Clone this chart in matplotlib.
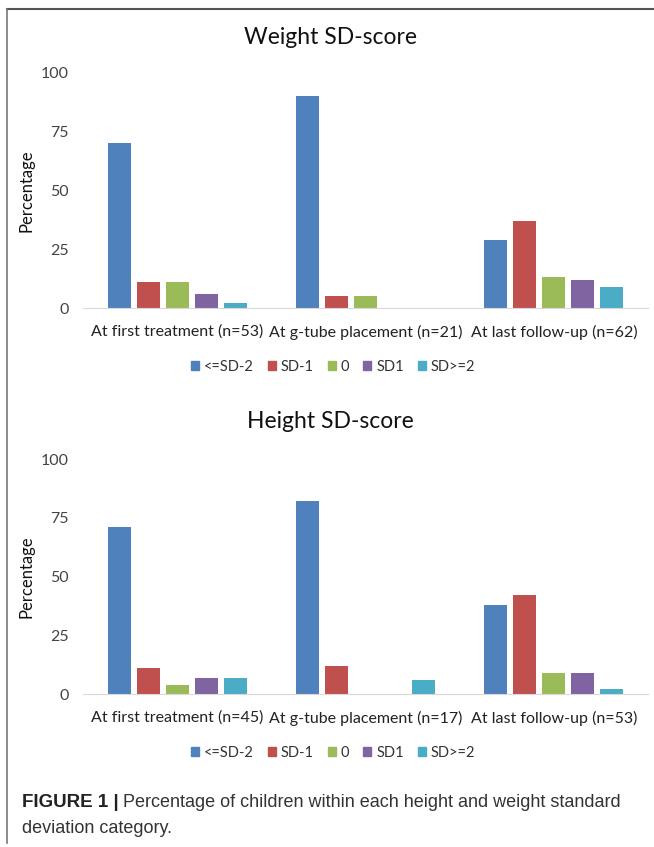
import numpy as np
import matplotlib
matplotlib.use("Agg")
import matplotlib.pyplot as plt
from matplotlib.patches import Patch
from matplotlib.lines import Line2D

series = ['<=SD-2', 'SD-1', '0', 'SD1', 'SD>=2']
colors = ['#4F81BD', '#C0504D', '#9BBB59', '#8064A2', '#4BACC6']

weight_cats = ['At first treatment (n=53)', 'At g-tube placement (n=21)', 'At last follow-up (n=62)']
weight_vals = [
    [70, 90, 29],   # <=SD-2
    [11, 5, 37],    # SD-1
    [11, 5, 13],    # 0
    [6, 0, 12],     # SD1
    [2, 0, 9],      # SD>=2
]

height_cats = ['At first treatment (n=45)', 'At g-tube placement (n=17)', 'At last follow-up (n=53)']
height_vals = [
    [71, 82, 38],
    [11, 12, 42],
    [4, 0, 9],
    [7, 0, 9],
    [7, 6, 2],
]

yticks = [0, 25, 50, 75, 100]

plt.rcParams['font.family'] = ['Lato', 'DejaVu Sans']

fig = plt.figure(figsize=(6.54, 8.47), dpi=100)
W, H = 654, 847

# frame around the figure panel
fig.add_artist(Line2D([7 / W, 1.0], [1 - 9 / H, 1 - 9 / H], color='#555555', lw=1.5))
fig.add_artist(Line2D([7 / W, 7 / W], [1 - 9 / H, 1 - 843 / H], color='#777777', lw=1.2))


def draw_panel(bottom_px, top_px, title, title_y, cats, vals, legend_y):
    ax = fig.add_axes([83 / W, 1 - bottom_px / H, (648 - 83) / W, (bottom_px - top_px) / H])
    x = np.arange(len(cats))
    step = 0.154
    width = 0.122
    for i, (name, v) in enumerate(zip(series, vals)):
        ax.bar(x + (i - 2) * step, v, width, color=colors[i], label=name)
    ax.set_xlim(-0.5, len(cats) - 0.5)
    ax.set_ylim(0, 100)
    ax.set_yticks(yticks)
    ax.set_xticks(x)
    ax.set_xticklabels(cats, fontsize=11.5, color='#222222')
    ax.tick_params(axis='y', length=0, labelsize=11.5, labelcolor='#444444', pad=10)
    ax.tick_params(axis='x', length=0, pad=12)
    for s in ['top', 'right', 'left']:
        ax.spines[s].set_visible(False)
    ax.spines['bottom'].set_color('#D9D9D9')
    fig.text(27 / W, 1 - (top_px + bottom_px) / 2 / H, 'Percentage', rotation=90,
             ha='center', va='center', fontsize=12, color='#111111')
    fig.text(330 / W, 1 - title_y / H, title, ha='center', va='center', fontsize=16.5, color='#111111')
    handles = [Patch(color=c) for c in colors]
    fig.legend(handles, series, loc='center', bbox_to_anchor=(333 / W, 1 - legend_y / H),
               ncol=5, frameon=False, fontsize=10.5, handlelength=0.55, handleheight=0.6,
               handletextpad=0.35, columnspacing=0.95, labelcolor='#333333')
    return ax


draw_panel(308, 73, 'Weight SD-score', 37, weight_cats, weight_vals, 367)
draw_panel(694, 459, 'Height SD-score', 421, height_cats, height_vals, 753)

cap_font = ['Liberation Sans', 'DejaVu Sans']
fig.text(22 / W, 1 - 802 / H, 'FIGURE 1 |', fontsize=13.5, fontweight='bold',
         family=cap_font, va='center', color='#222222')
fig.text(123 / W, 1 - 802 / H, 'Percentage of children within each height and weight standard',
         fontsize=13, family=cap_font, va='center', color='#333333')
fig.text(22 / W, 1 - 828 / H, 'deviation category.', fontsize=13,
         family=cap_font, va='center', color='#333333')

fig.savefig('out.png', dpi=100)
